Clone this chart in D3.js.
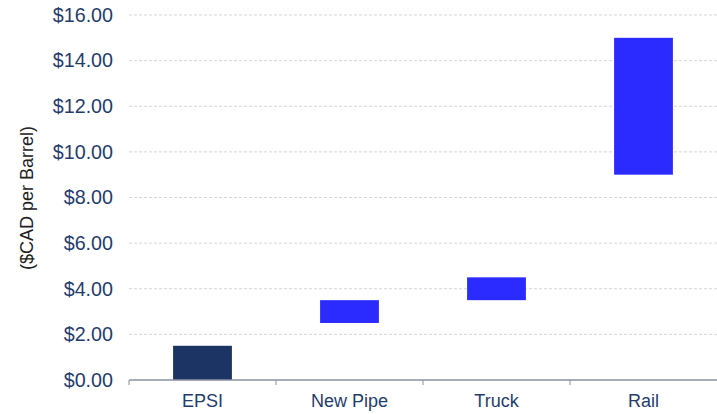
<!DOCTYPE html>
<html>
<head>
<meta charset="utf-8">
<script src="https://cdn.jsdelivr.net/npm/d3@7"></script>
<style>
  body { margin: 0; background: #fff; }
  text { font-family: "Liberation Sans", Arial, sans-serif; }
</style>
</head>
<body>
<script>
// categories and floating bar ranges ($CAD per barrel)
var categories = ['EPSI', 'New Pipe', 'Truck', 'Rail'];
var lows = [0, 2.5, 3.5, 9];
var highs = [1.5, 3.5, 4.5, 15];
var barColors = ['#1b3464', '#2b2bff', '#2b2bff', '#2b2bff'];
var yTicks = [0, 2, 4, 6, 8, 10, 12, 14, 16];

var width = 717, height = 414;
var margin = { top: 15, right: 0, bottom: 34, left: 129 };

var svg = d3.select('body').append('svg').attr('width', width).attr('height', height);

var x = d3.scaleBand().domain(categories).range([margin.left, width - margin.right]).padding(0);
var y = d3.scaleLinear().domain([0, 16]).range([height - margin.bottom, margin.top]);

// gridlines
svg.append('g').selectAll('line')
  .data(yTicks.filter(function(d) { return d > 0; }))
  .enter().append('line')
  .attr('x1', margin.left).attr('x2', width - margin.right)
  .attr('y1', function(d) { return y(d); }).attr('y2', function(d) { return y(d); })
  .attr('stroke', '#d6d6d6').attr('stroke-dasharray', '3,2');

// y axis labels
var yAxis = svg.append('g').attr('transform', 'translate(' + (margin.left - 16) + ',0)')
  .call(d3.axisLeft(y).tickValues(yTicks).tickSize(0).tickFormat(function(d) { return '$' + d.toFixed(2); }));
yAxis.select('.domain').remove();
yAxis.selectAll('text').attr('font-size', 19.7).attr('fill', '#1f3d6d').attr('x', 0)
  .style('font-family', '"Liberation Sans", Arial, sans-serif');

// bars
var barW = x.bandwidth() * 0.4;
svg.append('g').selectAll('rect')
  .data(categories)
  .enter().append('rect')
  .attr('x', function(d) { return x(d) + (x.bandwidth() - barW) / 2; })
  .attr('width', barW)
  .attr('y', function(d, i) { return y(highs[i]); })
  .attr('height', function(d, i) { return y(lows[i]) - y(highs[i]); })
  .attr('fill', function(d, i) { return barColors[i]; });

// x axis
var xAxis = svg.append('g').attr('transform', 'translate(0,' + y(0) + ')')
  .call(d3.axisBottom(x).tickSize(0).tickPadding(14));
xAxis.select('.domain').attr('stroke', '#8a8fa3').attr('stroke-width', 1.5).attr('d', 'M' + margin.left + ',0H' + width);
xAxis.selectAll('text').attr('font-size', 18).attr('fill', '#1f3d6d')
  .style('font-family', '"Liberation Sans", Arial, sans-serif');
xAxis.append('g').selectAll('line')
  .data(categories)
  .enter().append('line')
  .attr('x1', function(d) { return x(d); }).attr('x2', function(d) { return x(d); })
  .attr('y1', 0).attr('y2', 5)
  .attr('stroke', '#8a8fa3');

// y title
svg.append('text')
  .attr('transform', 'translate(33,' + 198 + ') rotate(-90)')
  .attr('text-anchor', 'middle')
  .attr('font-size', 18)
  .attr('fill', '#222')
  .text('($CAD per Barrel)');
</script>
</body>
</html>
